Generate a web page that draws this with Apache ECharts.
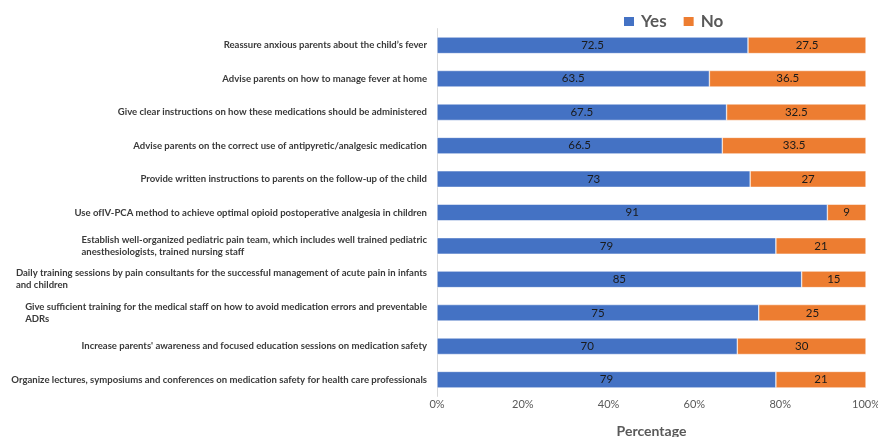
<!DOCTYPE html>
<html>
<head>
<meta charset="utf-8">
<script src="https://cdn.jsdelivr.net/npm/echarts@6/dist/echarts.min.js"></script>
<style>html,body{margin:0;padding:0;background:#fff}#c{width:878px;height:437px}</style>
</head>
<body>
<div id="c"></div>
<script>
const categories = [
  "Reassure anxious parents about the child\u2019s fever",
  "Advise parents on how to manage fever at home",
  "Give clear instructions on how these medications should be administered",
  "Advise parents on the correct use of antipyretic/analgesic medication",
  "Provide written instructions to parents on the follow-up of the child",
  "Use ofIV-PCA method to achieve optimal opioid postoperative analgesia in children",
  "Establish well-organized pediatric pain team, which includes well trained pediatric\nanesthesiologists, trained nursing staff",
  "Daily training sessions by pain consultants for the successful management of acute pain in infants\nand children",
  "Give sufficient training for the medical staff on how to avoid medication errors and preventable\nADRs",
  "Increase parents' awareness and focused education sessions on medication safety",
  "Organize lectures, symposiums and conferences on medication safety for health care professionals"
];
const yesValues = [72.5, 63.5, 67.5, 66.5, 73, 91, 79, 85, 75, 70, 79];
const noValues = [27.5, 36.5, 32.5, 33.5, 27, 9, 21, 15, 25, 30, 21];
const seriesNames = ["Yes", "No"];
const axisTitle = "Percentage";

const FONT = 'Lato';
const chart = echarts.init(document.getElementById('c'), null, {renderer: 'canvas'});
const labelStyle = {
  show: true, position: 'inside', color: '#1a1a1a', fontFamily: FONT, fontSize: 11.5,
  formatter: p => String(p.value)
};
chart.setOption({
  animation: false,
  textStyle: {fontFamily: FONT},
  legend: {
    data: seriesNames, left: 617, top: 8, itemWidth: 12, itemHeight: 11, itemGap: 15,
    icon: 'rect',
    textStyle: {fontFamily: FONT, fontWeight: 'bold', fontSize: 17, color: '#595959', padding: [0, 0, 0, 1]}
  },
  grid: {left: 437, right: 12, top: 28.6, height: 367.8, containLabel: false, outerBoundsMode: 'none'},
  xAxis: {
    type: 'value', min: 0, max: 100, interval: 20,
    axisLine: {show: false}, axisTick: {show: false}, splitLine: {show: false},
    axisLabel: {formatter: v => v + '%', color: '#595959', fontFamily: FONT, fontSize: 11, margin: 3},
    name: axisTitle, nameLocation: 'middle', nameGap: 28,
    nameTextStyle: {fontFamily: FONT, fontWeight: 'bold', fontSize: 14, color: '#595959'}
  },
  yAxis: {
    type: 'category', data: categories, inverse: true,
    axisLine: {show: true, lineStyle: {color: '#d9d9d9', width: 1}},
    axisTick: {show: false},
    axisLabel: {
      margin: 10, interval: 0,
      formatter: v => v.split('\n').map(l => '{l|' + l + '}').join('\n'),
      rich: {l: {align: 'left', fontFamily: FONT, fontWeight: 'bold', fontSize: 9.55, color: '#3a3a3a', lineHeight: 12}}
    }
  },
  series: [
    {name: seriesNames[0], type: 'bar', stack: 'a', data: yesValues, barWidth: 16.5,
     itemStyle: {color: '#4472C4', borderColor: '#ffffff', borderWidth: 0.5}, label: labelStyle},
    {name: seriesNames[1], type: 'bar', stack: 'a', data: noValues, barWidth: 16.5,
     itemStyle: {color: '#ED7D31', borderColor: '#ffffff', borderWidth: 0.5}, label: labelStyle}
  ]
});
</script>
</body>
</html>
